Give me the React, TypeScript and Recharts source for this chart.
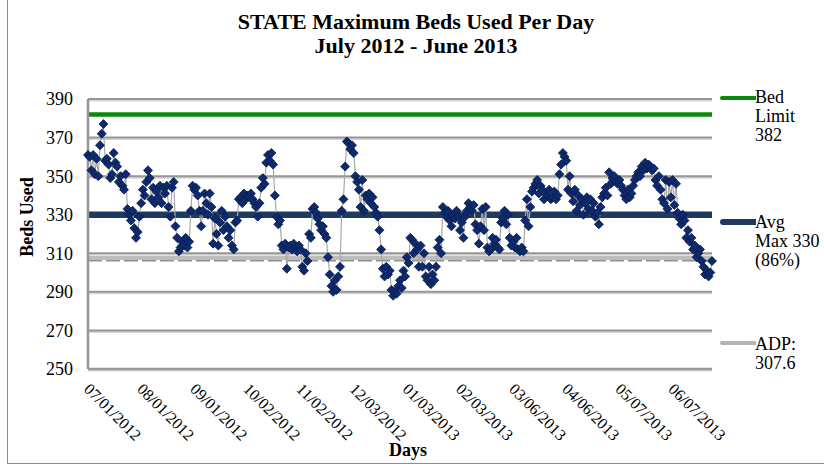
import { LineChart, Line, XAxis, YAxis, CartesianGrid, ReferenceLine } from 'recharts';

// daily maximum beds used, one array per month (Jul 2012 .. Jun 2013)
const jul = [361, 360, 353, 361, 351, 359, 350, 366, 372, 377, 358, 359, 356, 349, 351, 362, 357, 355, 347, 350, 345, 343, 351, 333, 330, 327, 332, 323, 318, 321, 329];
const aug = [336, 343, 340, 347, 353, 349, 338, 344, 336, 342, 339, 345, 336, 344, 341, 345, 334, 329, 344, 347, 324, 318, 311, 313, 316, 314, 318, 313, 316, 332, 345];
const sep = [343, 344, 340, 332, 324, 332, 341, 336, 330, 341, 334, 315, 328, 320, 314, 326, 332, 322, 329, 324, 318, 322, 314, 312, 326, 327, 338, 339, 336, 341];
const oct = [338, 340, 339, 341, 338, 336, 334, 329, 336, 344, 349, 346, 357, 361, 358, 362, 356, 340, 329, 325, 327, 314, 312, 315, 302, 313, 314, 312, 315, 313, 311];
const nov = [314, 312, 303, 301, 310, 306, 320, 318, 333, 334, 331, 328, 325, 322, 324, 320, 318, 308, 299, 293, 290, 296, 291, 298, 303, 332, 338, 355, 368, 367];
const dec = [364, 366, 362, 350, 347, 343, 334, 348, 332, 340, 338, 341, 336, 339, 334, 331, 329, 322, 312, 302, 298, 303, 299, 301, 291, 288, 290, 289, 293, 296, 292];
const jan = [301, 298, 308, 305, 318, 317, 310, 315, 312, 303, 314, 303, 310, 298, 296, 303, 294, 299, 296, 303, 313, 317, 310, 334, 331, 329, 332, 327, 324, 330, 328];
const feb = [332, 329, 322, 326, 318, 329, 332, 336, 334, 332, 335, 325, 322, 315, 324, 333, 322, 334, 313, 311, 312, 318, 315, 317, 313, 312, 326, 328];
const mar = [332, 325, 330, 318, 314, 316, 313, 318, 312, 311, 313, 311, 327, 338, 324, 334, 342, 344, 346, 348, 341, 345, 343, 338, 341, 340, 343, 338, 339, 342, 338];
const apr = [340, 351, 356, 362, 360, 358, 343, 350, 341, 337, 343, 332, 340, 335, 338, 330, 336, 339, 333, 338, 332, 336, 329, 331, 325, 334, 339, 341, 344, 340];
const may = [352, 346, 349, 350, 347, 346, 348, 345, 343, 340, 338, 343, 339, 341, 345, 348, 350, 352, 350, 355, 353, 357, 354, 356, 355, 353, 354, 348, 345, 350, 343];
const jun = [338, 336, 348, 333, 347, 339, 348, 335, 346, 331, 328, 325, 330, 327, 318, 322, 316, 318, 312, 314, 308, 310, 312, 306, 303, 299, 301, 298, 300, 306];

const BED_LIMIT = 382;
const AVG_MAX = 330;
const ADP = 307.6;

const yTicks = [250, 270, 290, 310, 330, 350, 370, 390];

const bedsUsed = [jul, aug, sep, oct, nov, dec, jan, feb, mar, apr, may, jun].flat();

const pad = (n: number) => String(n).padStart(2, '0');
const startDay = Date.UTC(2012, 6, 1);
const chartData = bedsUsed.map((beds, i) => {
  const d = new Date(startDay + i * 86400000);
  return {
    day: `${pad(d.getUTCMonth() + 1)}/${pad(d.getUTCDate())}/${d.getUTCFullYear()}`,
    beds,
  };
});

const SERIF = '"Liberation Serif", "Times New Roman", serif';

const Diamond = (props: any) => {
  const { cx, cy } = props;
  if (cx == null || cy == null) return <g />;
  const r = 4.5;
  return (
    <path
      d={`M${cx},${cy - r}L${cx + r},${cy}L${cx},${cy + r}L${cx - r},${cy}Z`}
      fill="#0d2a6e" stroke="#081a45" strokeWidth={0.8}
    />
  );
};

// grid rule drawn as a dark line with a light shadow under it
const GridRule = (p: any) => (
  <g key={p.key}>
    <line x1={p.x1} y1={p.y1 + 1.5} x2={p.x2} y2={p.y2 + 1.5} stroke="#d6d6d6" strokeWidth={2} />
    <line x1={p.x1} y1={p.y1} x2={p.x2} y2={p.y2} stroke="#969696" strokeWidth={2} />
  </g>
);

const AdpRule = (p: any) => (
  <g>
    <line x1={p.x1} y1={p.y1 + 2.5} x2={p.x2} y2={p.y2 + 2.5} stroke="#8e8e8e" strokeWidth={2} strokeDasharray="14 4" />
    <line x1={p.x1} y1={p.y1} x2={p.x2} y2={p.y2} stroke="#bdbdbd" strokeWidth={4} />
  </g>
);

const XTick = ({ x, y, payload }: any) => {
  const ax = x - 5;
  const ay = y + 13;
  return (
    <text x={ax} y={ay} transform={`rotate(45 ${ax} ${ay})`} textAnchor="start"
      fontFamily={SERIF} fontSize={16} fill="#000">
      {payload.value}
    </text>
  );
};

const legendText: React.CSSProperties = {
  position: 'absolute', left: 755, fontFamily: SERIF, fontSize: 18,
  lineHeight: '19px', color: '#000',
};

const swatch = (top: number, color: string, h: number): React.CSSProperties => ({
  position: 'absolute', left: 720, top: top - h / 2, width: 36, height: h,
  background: color, borderRadius: `${h / 2}px 0 0 ${h / 2}px`,
});

export default function App() {
  return (
    <div style={{ position: 'absolute', left: 0, top: 0, width: 824, height: 470, background: '#fff' }}>
      <div style={{
        position: 'absolute', left: 7, top: 0, width: 817, height: 463,
        borderLeft: '1.5px solid #8c8c8c', borderBottom: '1.5px solid #8c8c8c',
      }} />
      <div style={{
        position: 'absolute', left: 0, top: 10, width: 832, textAlign: 'center',
        fontFamily: SERIF, fontWeight: 'bold', fontSize: 22, lineHeight: '24px',
      }}>
        STATE Maximum Beds Used Per Day<br />July 2012 - June 2013
      </div>

      <LineChart width={824} height={470} data={chartData}
        margin={{ top: 99, right: 112, left: 28, bottom: 41 }}
        style={{ position: 'absolute', left: 0, top: 0 }}>
        <CartesianGrid vertical={false} horizontal={GridRule} />
        <XAxis dataKey="day" interval={30} tick={<XTick />} tickLine={false}
          axisLine={{ stroke: '#969696', strokeWidth: 2.5 }} height={60} />
        <YAxis domain={[250, 390]} ticks={yTicks} width={60} tickSize={0} tickMargin={15}
          tick={{ fontFamily: SERIF, fontSize: 18, fill: '#000' }}
          axisLine={{ stroke: '#969696', strokeWidth: 2.5 }} />
        <ReferenceLine y={BED_LIMIT} stroke="#0a8a0a" strokeWidth={4.5} />
        <ReferenceLine y={AVG_MAX} stroke="#1f3a60" strokeWidth={6.5} />
        <ReferenceLine y={ADP} stroke="#bdbdbd" strokeWidth={4} shape={AdpRule} />
        <Line dataKey="beds" type="linear" stroke="#a8a8a8" strokeWidth={1.2}
          dot={(p: any) => <Diamond key={p.index} {...p} />} activeDot={false}
          isAnimationActive={false} />
      </LineChart>

      <div style={{
        position: 'absolute', left: 27, top: 217, transform: 'translate(-50%, -50%) rotate(-90deg)',
        fontFamily: SERIF, fontWeight: 'bold', fontSize: 18, whiteSpace: 'nowrap',
      }}>Beds Used</div>
      <div style={{
        position: 'absolute', left: 408, top: 440, transform: 'translateX(-50%)',
        fontFamily: SERIF, fontWeight: 'bold', fontSize: 18,
      }}>Days</div>

      <div style={swatch(98, '#0a8a0a', 4.5)} />
      <div style={{ ...legendText, top: 88 }}>Bed<br />Limit<br />382</div>
      <div style={swatch(222, '#1f3a60', 6.5)} />
      <div style={{ ...legendText, top: 213 }}>Avg<br />Max 330<br />(86%)</div>
      <div style={swatch(343, '#b4b4b4', 4)} />
      <div style={{ ...legendText, top: 335 }}>ADP:<br />307.6</div>
    </div>
  );
}
